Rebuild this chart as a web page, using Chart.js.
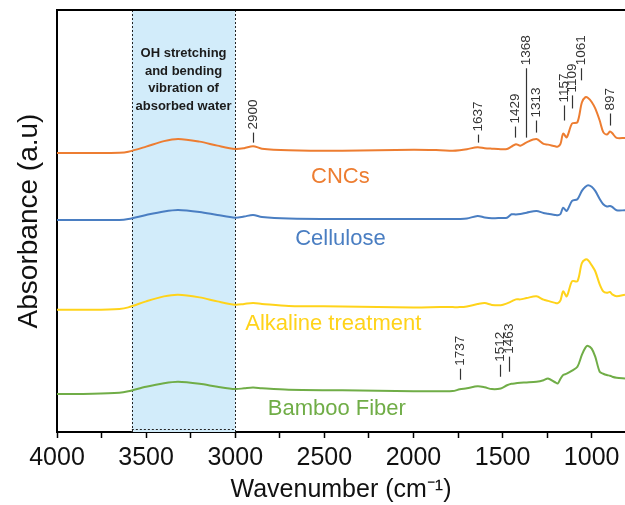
<!DOCTYPE html>
<html>
<head>
<meta charset="utf-8">
<script src="https://cdn.jsdelivr.net/npm/chart.js@4/dist/chart.umd.min.js"></script>
<style>
  html, body { margin: 0; padding: 0; background: #fff; }
</style>
</head>
<body>
<canvas id="ftirChart" width="625" height="505"></canvas>
<script>
// wavenumber (cm-1) and stacked absorbance traces (offset a.u.)
const wavenumbers = [4000, 3800, 3650, 3600, 3500, 3400, 3320, 3200, 3100, 3000,
  2950, 2900, 2850, 2700, 2400, 2000, 1850, 1780, 1740, 1700,
  1640, 1600, 1560, 1510, 1475, 1450, 1425, 1400, 1365, 1310,
  1270, 1245, 1205, 1190, 1175, 1160, 1140, 1110, 1080, 1055,
  1035, 1020, 1000, 980, 955, 935, 915, 897, 885, 860, 813];

const cncs = [277.7, 277.7, 278, 279, 284, 289.5, 291.7, 289, 285, 281.7,
  282.5, 284.5, 282, 280.5, 280, 281, 280.5, 280, 280.5, 281.5,
  283.5, 282.5, 282, 281.5, 281.7, 284, 286.5, 285, 288.3, 291.5,
  286.7, 286, 284.3, 284, 286.7, 297, 293.3, 307, 308.3, 328,
  333.3, 332.5, 328.5, 322, 310, 298.5, 296, 299, 297.5, 292.7, 292.7];

const cellulose = [211, 211, 211, 212, 216, 219.5, 221, 219, 216, 213.3,
  214.5, 216, 214, 212.5, 212, 212, 212, 212, 212, 212.5,
  215, 213.5, 212.7, 213, 213.3, 216.7, 216.5, 217, 218.3, 220,
  218, 217.3, 216, 215.7, 217, 223.3, 220, 230, 231.7, 240,
  244, 245.7, 244, 240, 232, 226.7, 224.5, 225, 224, 220.7, 220.7];

const alkaline = [121.7, 121.7, 122.5, 124, 130, 135, 136.7, 134, 130, 126.7,
  127.5, 128.3, 127.5, 125.5, 125, 124, 124.3, 124.3, 124.3, 125,
  127.3, 128.3, 126.5, 126.2, 128, 130, 132, 132, 133.3, 135,
  131.7, 130.5, 128.5, 128.3, 131, 140, 135, 150, 150, 168,
  171.7, 171, 166, 160, 147, 140, 138.5, 139.3, 137, 135, 136.7];

const bamboo = [37.7, 38, 39, 40.5, 45, 48.5, 50, 48, 45, 42.7,
  43.5, 44.3, 43.5, 42, 41.5, 40.5, 40.5, 40.7, 42.5, 43.5,
  45.5, 44.5, 42.7, 43.3, 46.5, 48, 48.5, 49, 49.3, 50,
  51.5, 53.3, 49.5, 48.3, 53, 56.7, 58, 61, 65, 76.7,
  84, 85.7, 83, 75, 60, 58, 56.7, 56, 55, 54, 53.3];

const seriesNames = ['CNCs', 'Cellulose', 'Alkaline treatment', 'Bamboo Fiber'];
const seriesColors = ['#ED7D31', '#4A7EC2', '#FFD31A', '#70AD47'];

// x ticks: labelled every 500, minor marks every 250
const xTickValues = [4000, 3750, 3500, 3250, 3000, 2750, 2500, 2250, 2000, 1750, 1500, 1250, 1000];

// marked bands
const cncsPeaks = [2900, 1637, 1429, 1368, 1313, 1157, 1109, 1061, 897];
const bambooPeaks = [1737, 1512, 1463];

const waterBand = [3580, 3000];
const waterText = ['OH stretching', 'and bending', 'vibration of', 'absorbed water'];

const FONT = "'Liberation Sans', Arial, sans-serif";

function toPoints(ys) {
  return ys.map((y, i) => ({ x: wavenumbers[i], y: y }));
}

// leader line [bottom, top] for each peak label, same order as the peak lists
const cncsLeaders = [[288, 298], [288, 296], [293, 304], [293, 362], [298, 310],
  [310, 325], [322, 335], [350, 362], [305, 317]];
const bambooLeaders = [[52, 63], [55, 67], [60, 75]];

const seriesLabelAnchors = [[2410, 254], [2410, 192], [2450, 108], [2430, 23]];
const waterTextY = [377, 359, 342, 324];

const annotations = {
  id: 'annotations',
  beforeDatasetsDraw(chart) {
    const { ctx, chartArea, scales: { x } } = chart;
    const x0 = x.getPixelForValue(waterBand[0]);
    const x1 = x.getPixelForValue(waterBand[1]);
    ctx.save();
    ctx.fillStyle = '#D2ECFA';
    ctx.fillRect(x0, chartArea.top, x1 - x0, chartArea.bottom - chartArea.top);
    ctx.strokeStyle = '#222';
    ctx.lineWidth = 1;
    ctx.setLineDash([2, 2]);
    [x0, x1].forEach(px => {
      ctx.beginPath();
      ctx.moveTo(Math.round(px) + 0.5, chartArea.top);
      ctx.lineTo(Math.round(px) + 0.5, chartArea.bottom);
      ctx.stroke();
    });
    ctx.beginPath();
    ctx.moveTo(x0, chartArea.bottom - 2.5);
    ctx.lineTo(x1, chartArea.bottom - 2.5);
    ctx.stroke();
    ctx.restore();
  },
  afterDatasetsDraw(chart) {
    const { ctx, chartArea, scales: { x, y } } = chart;
    ctx.save();

    // band caption
    ctx.fillStyle = '#1b1b1b';
    ctx.font = 'bold 13px ' + FONT;
    ctx.textAlign = 'center';
    ctx.textBaseline = 'middle';
    const cx = (x.getPixelForValue(waterBand[0]) + x.getPixelForValue(waterBand[1])) / 2;
    waterText.forEach((t, i) => ctx.fillText(t, cx, y.getPixelForValue(waterTextY[i])));

    // series names
    ctx.font = '22px ' + FONT;
    seriesNames.forEach((n, i) => {
      ctx.fillStyle = seriesColors[i];
      ctx.fillText(n, x.getPixelForValue(seriesLabelAnchors[i][0]), y.getPixelForValue(seriesLabelAnchors[i][1]));
    });

    // peak labels
    ctx.font = '13.5px ' + FONT;
    ctx.fillStyle = '#333';
    ctx.strokeStyle = '#333';
    ctx.lineWidth = 1.2;
    const drawPeaks = (peaks, leaders) => {
      peaks.forEach((w, i) => {
        const px = Math.round(x.getPixelForValue(w)) + 0.5;
        const yb = y.getPixelForValue(leaders[i][0]);
        const yt = y.getPixelForValue(leaders[i][1]);
        ctx.beginPath();
        ctx.moveTo(px, yb);
        ctx.lineTo(px, yt);
        ctx.stroke();
        ctx.save();
        ctx.translate(px, yt - 3);
        ctx.rotate(-Math.PI / 2);
        ctx.textAlign = 'left';
        ctx.textBaseline = 'middle';
        ctx.fillText(String(w), 0, 0);
        ctx.restore();
      });
    };
    drawPeaks(cncsPeaks, cncsLeaders);
    drawPeaks(bambooPeaks, bambooLeaders);

    // top frame line
    ctx.strokeStyle = '#000';
    ctx.lineWidth = 2;
    ctx.beginPath();
    ctx.moveTo(chartArea.left, chartArea.top);
    ctx.lineTo(chartArea.right, chartArea.top);
    ctx.stroke();
    ctx.restore();
  }
};

const traces = [cncs, cellulose, alkaline, bamboo];

new Chart(document.getElementById('ftirChart'), {
  type: 'line',
  data: {
    datasets: traces.map((t, i) => ({
      label: seriesNames[i],
      data: toPoints(t),
      borderColor: seriesColors[i],
      borderWidth: 2,
      pointRadius: 0,
      tension: 0.3,
      fill: false
    }))
  },
  options: {
    responsive: false,
    animation: false,
    devicePixelRatio: 1,
    layout: { padding: { top: 10, right: 0, left: 0, bottom: 0 } },
    plugins: { legend: { display: false }, tooltip: { enabled: false } },
    scales: {
      x: {
        type: 'linear',
        reverse: true,
        min: 813,
        max: 4000,
        afterFit: s => { s.height = 73; },
        afterBuildTicks: s => {
          s.ticks = xTickValues.map(v => ({ value: v }));
        },
        ticks: {
          autoSkip: false,
          maxRotation: 0,
          padding: 5,
          color: '#111',
          font: { family: FONT, size: 25 },
          callback: v => (v % 500 === 0 ? String(v) : '')
        },
        grid: { drawOnChartArea: false, tickLength: 6, tickColor: '#000', tickWidth: 1.5 },
        border: { color: '#000', width: 2 },
        title: {
          display: true,
          text: 'Wavenumber (cm⁻¹)',
          color: '#111',
          font: { family: FONT, size: 25 },
          padding: { top: 0, bottom: 0 }
        }
      },
      y: {
        min: 0,
        max: 420,
        afterFit: s => { s.width = 57; },
        ticks: { display: false },
        grid: { display: false },
        border: { color: '#000', width: 2 },
        title: {
          display: true,
          text: 'Absorbance (a.u)',
          color: '#111',
          font: { family: FONT, size: 28 },
          padding: { top: 12, bottom: 0 }
        }
      }
    }
  },
  plugins: [annotations]
});
</script>
</body>
</html>
